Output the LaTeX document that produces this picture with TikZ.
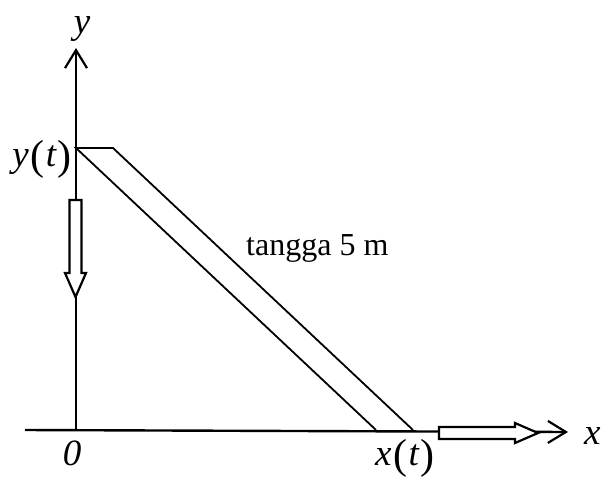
\documentclass[tikz,border=0pt]{standalone}
\usepackage{fontspec}
\setmainfont{Liberation Serif}
\usetikzlibrary{arrows.meta}
\newcommand{\bigpar}[1]{\raisebox{-3pt}{\fontsize{42}{44}\selectfont #1}}
\newcommand{\fnarg}[2]{\textit{#1}\kern2pt\bigpar{(}\kern1pt\textit{#2}\kern1pt\bigpar{)}}
\begin{document}
\begin{tikzpicture}[x=1pt,y=-1pt,
  axis/.style={line width=2.4pt,-{Straight Barb[length=18pt,width=22pt,line width=2.2pt]}},
  ladder/.style={line width=1.8pt,line join=miter},
  hollow/.style={draw,fill=white,line width=2.2pt,line join=miter},
  lbl/.style={inner sep=0pt,font=\fontsize{32}{36}\selectfont},
  mlbl/.style={inner sep=0pt,font=\fontsize{37}{40}\selectfont}]
\useasboundingbox (0,0) rectangle (602,485);
% coordinates
\coordinate (O) at (76,430);
\coordinate (xl) at (25,430);
\coordinate (xe) at (568,432);
\coordinate (ye) at (76,48);
\coordinate (T1) at (76,148);
\coordinate (T2) at (113,148);
\coordinate (B1) at (376,430);
\coordinate (B2) at (413,430);
% axes
\draw[axis] (xl) -- (xe);
\draw[axis] (O) -- (ye);
% ladder
\draw[ladder] (B1) -- (T1) -- (T2) -- (B2);
% hollow arrows
\draw[hollow] (69.5,200) -- (81.5,200) -- (81.5,273) -- (86,273) -- (75.5,297) -- (65,273) -- (69.5,273) -- cycle;
\draw[hollow] (439,427) -- (515,427) -- (515,423) -- (538,433) -- (515,443) -- (515,439) -- (439,439) -- cycle;
% labels
\node[mlbl,anchor=base] (ylab) at (82,33) {\textit{y}};
\node[mlbl,anchor=base west] (xlab) at (584,444) {\textit{x}};
\node[mlbl,anchor=base east] (ytlab) at (72,166) {\fnarg{y}{t}};
\node[mlbl,anchor=base] (zero) at (72,465) {\textit{0}};
\node[mlbl,anchor=base west] (xtlab) at (375,465) {\fnarg{x}{t}};
\node[lbl,anchor=base west] (tangga) at (246,255) {tangga 5 m};
\end{tikzpicture}
\end{document}
